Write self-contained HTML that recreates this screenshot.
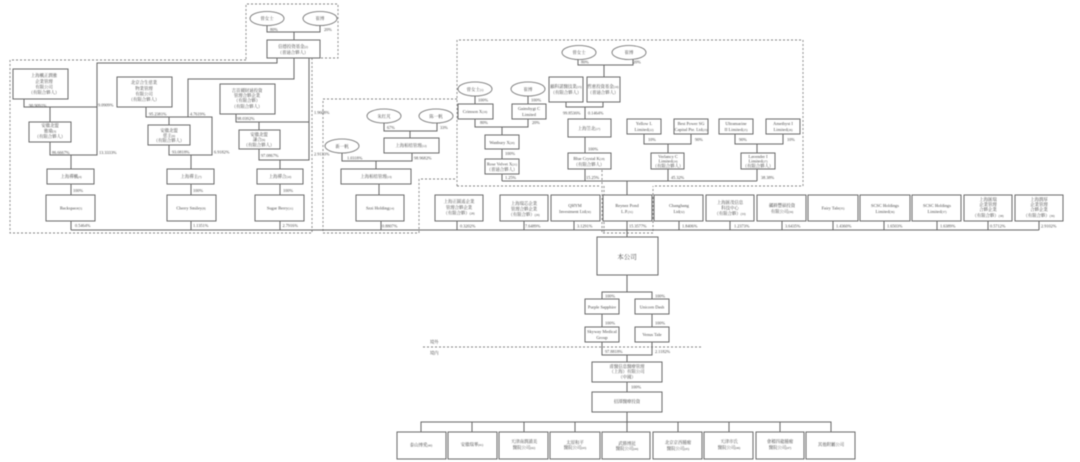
<!DOCTYPE html>
<html>
<head>
<meta charset="utf-8">
<style>
html,body{margin:0;padding:0;background:#fff;width:1080px;height:462px;overflow:hidden}
svg{display:block;filter:blur(.45px)}
text{font-family:"Liberation Serif","Noto Serif CJK SC",serif;font-size:4.4px;fill:#4a4a4a}
.c{text-anchor:middle}
.p{font-size:4.3px}
.b rect{fill:#fff;stroke:#6a6a6a;stroke-width:1}
.e ellipse{fill:#fff;stroke:#666;stroke-width:.8}
.l path{fill:none;stroke:#666;stroke-width:1}
.d path{fill:none;stroke:#808080;stroke-width:.9;stroke-dasharray:2 2}
</style>
</head>
<body>
<svg width="1080" height="462" viewBox="0 0 1080 462" xmlns="http://www.w3.org/2000/svg">
<rect width="1080" height="462" fill="#fff"/>

<g class="d">
<path d="M246 59V4H338V58H312"/>
<path d="M246 60H10V233H312V58"/>
<path d="M457 99H323V233H419V179H457"/>
<path d="M457 186V40H803V186H653"/>
<path d="M457 186H601"/>
<path d="M602 170V233H653V186"/>
<path d="M604 186V233"/>
<path d="M423 347H702"/>
</g>

<g class="l">
<path d="M267 25V32H320V25M294 32V40"/>
<path d="M277 58V63H97V155H50V142M97 107H24V99M50 107V122M71 155V169M71 184V195M71 221V230"/>
<path d="M294 58V79H188V117M146 107V117H212V155H169V145M169 117V125M191 155V169M191 184V195M191 221V230"/>
<path d="M309 58V160H259V149M236 114V122H309M259 122V130M280 160V169M280 184V195M280 221V230"/>
<path d="M71 230H1039"/>
<path d="M384 123V131H437V123M410 131V138M342 153V161H412V153M376 161V169M379 184V195M381 221V230"/>
<path d="M578 59V65H633V59M604 65V77M566 102V107H603V102M585 107V119M585 137V153M585 169V181"/>
<path d="M475 96V104M528 96V104M475 119V127H528V119M502 127V135M502 149V159M502 174V181"/>
<path d="M644 134V144H691V134M668 144V153M668 169V181M735 134V144H783V134M757 144V153M757 169V181"/>
<path d="M502 181H757M627 181V195M627 221V237"/>
<path d="M457 221V230M524 221V230M574 221V230M679 221V230M730 221V230M782 221V230M833 221V230M884 221V230M937 221V230M988 221V230M1039 221V230"/>
<path d="M627 275V292M602 299V292H652V299M602 314V327M652 314V327M602 342V355H652V342M627 355V362M627 382V392M627 412V422"/>
<path d="M421 432V422H831V432M472 422V432M524 422V432M575 422V432M627 422V432M678 422V432M729 422V432M780 422V432"/>
</g>

<g class="e">
<ellipse cx="267" cy="18.5" rx="17" ry="7"/>
<ellipse cx="320" cy="18.5" rx="17" ry="7"/>
<ellipse cx="384" cy="116" rx="17" ry="7"/>
<ellipse cx="436" cy="116" rx="17" ry="7"/>
<ellipse cx="342" cy="146" rx="17" ry="7"/>
<ellipse cx="579" cy="52.5" rx="17" ry="7"/>
<ellipse cx="629" cy="52.5" rx="17" ry="7"/>
<ellipse cx="475" cy="89" rx="17" ry="7"/>
<ellipse cx="528" cy="89" rx="17" ry="7"/>
</g>

<g class="b">
<rect x="267" y="40" width="53" height="18"/>
<rect x="13" y="69" width="55" height="30"/>
<rect x="29" y="122" width="42" height="20"/>
<rect x="47" y="169" width="47" height="15"/>
<rect x="46" y="195" width="49" height="26"/>
<rect x="117" y="77" width="55" height="30"/>
<rect x="148" y="125" width="42" height="20"/>
<rect x="167" y="169" width="47" height="15"/>
<rect x="167" y="195" width="49" height="26"/>
<rect x="220" y="84" width="55" height="30"/>
<rect x="239" y="130" width="41" height="19"/>
<rect x="257" y="169" width="46" height="15"/>
<rect x="255" y="195" width="49" height="26"/>
<rect x="384" y="138" width="55" height="15"/>
<rect x="341" y="169" width="70" height="15"/>
<rect x="356" y="195" width="48" height="26"/>
<rect x="549" y="77" width="34" height="25"/>
<rect x="587" y="77" width="33" height="25"/>
<rect x="568" y="119" width="43" height="18"/>
<rect x="568" y="153" width="43" height="16"/>
<rect x="458" y="104" width="35" height="15"/>
<rect x="512" y="104" width="34" height="15"/>
<rect x="485" y="135" width="34" height="14"/>
<rect x="485" y="159" width="34" height="15"/>
<rect x="627" y="119" width="34" height="15"/>
<rect x="674" y="119" width="34" height="15"/>
<rect x="651" y="153" width="33" height="16"/>
<rect x="719" y="119" width="34" height="15"/>
<rect x="766" y="119" width="34" height="15"/>
<rect x="741" y="153" width="34" height="16"/>
<rect x="435" y="195" width="48" height="26"/>
<rect x="500" y="195" width="48" height="26"/>
<rect x="551" y="195" width="49" height="26"/>
<rect x="603" y="195" width="49" height="26"/>
<rect x="654" y="195" width="49" height="26"/>
<rect x="706" y="195" width="48" height="26"/>
<rect x="757" y="195" width="49" height="26"/>
<rect x="808" y="195" width="50" height="26"/>
<rect x="860" y="195" width="50" height="26"/>
<rect x="912" y="195" width="49" height="26"/>
<rect x="964" y="195" width="48" height="26"/>
<rect x="1015" y="195" width="48" height="26"/>
<rect x="597" y="237" width="61" height="38"/>
<rect x="585" y="299" width="34" height="15"/>
<rect x="635" y="299" width="34" height="15"/>
<rect x="585" y="327" width="34" height="15"/>
<rect x="635" y="327" width="34" height="15"/>
<rect x="592" y="362" width="70" height="20"/>
<rect x="592" y="392" width="70" height="20"/>
<rect x="397" y="432" width="49" height="27"/>
<rect x="448" y="432" width="49" height="27"/>
<rect x="499" y="432" width="49" height="27"/>
<rect x="550" y="432" width="50" height="27"/>
<rect x="602" y="432" width="48" height="27"/>
<rect x="653" y="432" width="49" height="27"/>
<rect x="704" y="432" width="49" height="27"/>
<rect x="756" y="432" width="48" height="27"/>
<rect x="806" y="432" width="49" height="27"/>
</g>

<g class="c">
<text x="267" y="20">曾女士</text>
<text x="320" y="20">崔博</text>
<text x="384" y="118">朱红芃</text>
<text x="436" y="118">陈一帆</text>
<text x="342" y="148">新一帆</text>
<text x="579" y="54">曾女士</text>
<text x="629" y="54">崔博</text>
<text x="475" y="91">曾女士<tspan font-size="3">(1)</tspan></text>
<text x="528" y="91">崔博</text>

<text x="293" y="48">信德投资基金<tspan font-size="3">(2)</tspan></text>
<text x="293" y="54">（普通合夥人）</text>

<text x="44" y="77">上海楓正潤雅</text>
<text x="44" y="83">企業管理</text>
<text x="44" y="88.500">有限公司</text>
<text x="44" y="94">（有限合夥人）</text>
<text x="50" y="127">安徽北盟</text>
<text x="50" y="132.500">雅瑜<tspan font-size="3">(3)</tspan></text>
<text x="50" y="138">（有限合夥人）</text>
<text x="71" y="178">上海禪楓<tspan font-size="3">(4)</tspan></text>
<text x="71" y="209.500" fill="#333">Backspace<tspan font-size="3">(5)</tspan></text>

<text x="144" y="84">北京合生慈業</text>
<text x="144" y="90">物業管理</text>
<text x="144" y="95.500">有限公司</text>
<text x="144" y="101">（有限合夥人）</text>
<text x="169" y="132">安徽北盟</text>
<text x="169" y="137">慈主<tspan font-size="3">(6)</tspan></text>
<text x="169" y="142">（有限合夥人）</text>
<text x="191" y="178">上海禪主<tspan font-size="3">(7)</tspan></text>
<text x="191" y="209.500">Cherry Smiley<tspan font-size="3">(8)</tspan></text>

<text x="247" y="92">吉首爾財通投資</text>
<text x="247" y="97">管理合夥企業</text>
<text x="247" y="102">（有限合夥）</text>
<text x="247" y="108">（有限合夥人）</text>
<text x="259" y="136">安徽北盟</text>
<text x="259" y="141">謙合<tspan font-size="3">(9)</tspan></text>
<text x="259" y="146.500">（有限合夥人）</text>
<text x="280" y="178">上海禪合<tspan font-size="3">(10)</tspan></text>
<text x="280" y="209.500">Sugar Berry<tspan font-size="3">(11)</tspan></text>

<text x="411" y="147">上海相桔管理<tspan font-size="3">(12)</tspan></text>
<text x="376" y="178">上海相桔管理<tspan font-size="3">(13)</tspan></text>
<text x="380" y="209.500">Szzi Holding<tspan font-size="3">(14)</tspan></text>

<text x="566" y="88">顧科諾醫技業<tspan font-size="3">(15)</tspan></text>
<text x="566" y="94">（有限合夥人）</text>
<text x="603" y="88">哲惠投資基金<tspan font-size="3">(16)</tspan></text>
<text x="603" y="94">（普通合夥人）</text>
<text x="589" y="130">上海笠北<tspan font-size="3">(17)</tspan></text>
<text x="589" y="160">Blue Crystal K<tspan font-size="3">(18)</tspan></text>
<text x="589" y="166">（有限合夥人）</text>
<text x="475" y="113">Crimson X<tspan font-size="3">(19)</tspan></text>
<text x="529" y="110">Gainsbygt C</text>
<text x="529" y="116">Limited</text>
<text x="502" y="144">Wanbury X<tspan font-size="3">(20)</tspan></text>
<text x="502" y="165.500">Rose Velvet X<tspan font-size="3">(21)</tspan></text>
<text x="502" y="171">（普通合夥人）</text>
<text x="644" y="125">Yellow L</text>
<text x="644" y="131">Limited<tspan font-size="3">(22)</tspan></text>
<text x="691" y="125">Best Power SG</text>
<text x="691" y="131">Capital Pte. Ltd<tspan font-size="3">(23)</tspan></text>
<text x="668" y="158">Verlancy C</text>
<text x="668" y="162.500">Limited<tspan font-size="3">(24)</tspan></text>
<text x="668" y="167.500">（有限合夥人）</text>
<text x="736" y="125">Ultramarine</text>
<text x="736" y="131">II Limited<tspan font-size="3">(25)</tspan></text>
<text x="783" y="125">Amethyst I</text>
<text x="783" y="131">Limited<tspan font-size="3">(26)</tspan></text>
<text x="758" y="158">Lavender I</text>
<text x="758" y="162.500">Limited<tspan font-size="3">(27)</tspan></text>
<text x="758" y="167.500">（有限合夥人）</text>

<text x="459" y="203">上海正圓遙企業</text>
<text x="459" y="209">管理合夥企業</text>
<text x="459" y="214.500">（有限合夥）<tspan font-size="3">(28)</tspan></text>
<text x="524" y="205">上海瑞芯企業</text>
<text x="524" y="210.500">管理合夥企業</text>
<text x="524" y="216">（有限合夥）<tspan font-size="3">(29)</tspan></text>
<text x="575" y="207">QHYM</text>
<text x="575" y="213">Investment Ltd<tspan font-size="3">(30)</tspan></text>
<text x="627" y="207" fill="#35507a">Reynez Pond</text>
<text x="627" y="213">L.P.<tspan font-size="3">(31)</tspan></text>
<text x="679" y="207">Changhang</text>
<text x="679" y="213">Ltd<tspan font-size="3">(32)</tspan></text>
<text x="730" y="204">上海匯茂信息</text>
<text x="730" y="209.500">科技中心</text>
<text x="730" y="215">（有限合夥）<tspan font-size="3">(33)</tspan></text>
<text x="782" y="207">礪耕豐碩投資</text>
<text x="782" y="213">有限公司<tspan font-size="3">(34)</tspan></text>
<text x="833" y="209.500">Fairy Tale<tspan font-size="3">(35)</tspan></text>
<text x="885" y="207">SCSC Holdings</text>
<text x="885" y="213">Limited<tspan font-size="3">(36)</tspan></text>
<text x="937" y="207">SCSC Holdings</text>
<text x="937" y="213">Limited<tspan font-size="3">(37)</tspan></text>
<text x="988" y="201">上海匯瑞</text>
<text x="988" y="206">企業管理</text>
<text x="988" y="211">合夥企業</text>
<text x="988" y="217">（有限合夥）<tspan font-size="3">(38)</tspan></text>
<text x="1039" y="201">上海潤厚</text>
<text x="1039" y="206">企業管理</text>
<text x="1039" y="211">合夥企業</text>
<text x="1039" y="217">（有限合夥）<tspan font-size="3">(39)</tspan></text>

<text x="627" y="259" style="font-size:6.500px" fill="#222">本公司</text>
<text x="602" y="308.500">Purple Sapphire</text>
<text x="652" y="308.500">Unicorn Dash</text>
<text x="602" y="333">Skyway Medical</text>
<text x="602" y="339">Group</text>
<text x="652" y="336">Venus Tale</text>
<text x="627" y="368">甫醫信息醫療管理</text>
<text x="627" y="373">（上海）有限公司</text>
<text x="627" y="378.500">（中國）</text>
<text x="627" y="403">招潭醫療投資</text>
<text x="421" y="446.500">泰山博愛<tspan font-size="3">(40)</tspan></text>
<text x="472" y="446">安徽瑞華<tspan font-size="3">(41)</tspan></text>
<text x="524" y="443">天津南潤讀美</text>
<text x="524" y="449">醫院公司<tspan font-size="3">(42)</tspan></text>
<text x="575" y="444">太原和平</text>
<text x="575" y="449">醫院公司<tspan font-size="3">(43)</tspan></text>
<text x="627" y="445">武勝博瓩</text>
<text x="627" y="450">醫院公司<tspan font-size="3">(44)</tspan></text>
<text x="678" y="444">北京京西腫瘤</text>
<text x="678" y="450">醫院公司<tspan font-size="3">(45)</tspan></text>
<text x="729" y="443">天津市氏</text>
<text x="729" y="449">醫院公司<tspan font-size="3">(46)</tspan></text>
<text x="780" y="443">會稽四龍腫瘤</text>
<text x="780" y="449">醫院公司<tspan font-size="3">(47)</tspan></text>
<text x="831" y="446">其他附屬公司</text>
</g>

<g class="p">
<text class="p" x="270" y="31">80%</text>
<text class="p" x="324" y="31">20%</text>
<text class="p" x="29" y="107">90.9091%</text>
<text class="p" x="98" y="106.500">9.0909%</text>
<text class="p" x="52" y="154">86.6667%</text>
<text class="p" x="99" y="154">13.3333%</text>
<text class="p" x="73" y="192">100%</text>
<text class="p" x="75" y="227">0.5464%</text>
<text class="p" x="149" y="115.500">95.2381%</text>
<text class="p" x="190" y="115.500">4.7619%</text>
<text class="p" x="172" y="153.500">93.0818%</text>
<text class="p" x="214" y="153.500">6.9182%</text>
<text class="p" x="193" y="192">100%</text>
<text class="p" x="193" y="227">1.1351%</text>
<text class="p" x="237" y="120">98.0392%</text>
<text class="p" x="314" y="114">1.9608%</text>
<text class="p" x="261" y="157">97.0867%</text>
<text class="p" x="314" y="155.500">2.9133%</text>
<text class="p" x="283" y="192">100%</text>
<text class="p" x="282.500" y="227">2.7916%</text>
<text class="p" x="387" y="129">67%</text>
<text class="p" x="440" y="129">33%</text>
<text class="p" x="347" y="159.500">1.0318%</text>
<text class="p" x="414" y="159.500">98.9682%</text>
<text class="p" x="382" y="227.500">0.8807%</text>
<text class="p" x="581" y="63.500">80%</text>
<text class="p" x="633" y="63.500">20%</text>
<text class="p" x="478" y="101.500">100%</text>
<text class="p" x="531" y="101.500">100%</text>
<text class="p" x="563" y="114.500">99.8536%</text>
<text class="p" x="588" y="114.500">0.1464%</text>
<text class="p" x="480" y="124">80%</text>
<text class="p" x="532" y="124">20%</text>
<text class="p" x="505" y="155">100%</text>
<text class="p" x="588" y="150.500">100%</text>
<text class="p" x="505" y="179">1.25%</text>
<text class="p" x="586" y="179">15.25%</text>
<text class="p" x="648" y="141">10%</text>
<text class="p" x="695" y="141">90%</text>
<text class="p" x="739" y="141">90%</text>
<text class="p" x="787" y="141">10%</text>
<text class="p" x="671" y="179">45.32%</text>
<text class="p" x="761" y="179">38.38%</text>
<text class="p" x="460" y="227.500">0.3202%</text>
<text class="p" x="525" y="227.500">7.6489%</text>
<text class="p" x="577" y="227.500">3.1291%</text>
<text class="p" x="629" y="227.500">15.3577%</text>
<text class="p" x="682" y="227.500">1.8406%</text>
<text class="p" x="734" y="227.500">1.2373%</text>
<text class="p" x="785" y="227.500">3.6435%</text>
<text class="p" x="836" y="227.500">1.4360%</text>
<text class="p" x="887" y="227.500">1.6503%</text>
<text class="p" x="940" y="227.500">1.6389%</text>
<text class="p" x="990" y="227.500">0.5712%</text>
<text class="p" x="1041" y="227.500">2.9102%</text>
<text class="p" x="605" y="297.500">100%</text>
<text class="p" x="655" y="297.500">100%</text>
<text class="p" x="605" y="324.500">100%</text>
<text class="p" x="655" y="324.500">100%</text>
<text class="p" x="605" y="353">97.8818%</text>
<text class="p" x="655" y="353">2.1182%</text>
<text class="p" x="631" y="388.500">100%</text>
<text class="p" x="430" y="343.500">境外</text>
<text class="p" x="430" y="354.500">境内</text>
</g>
</svg>
</body>
</html>
